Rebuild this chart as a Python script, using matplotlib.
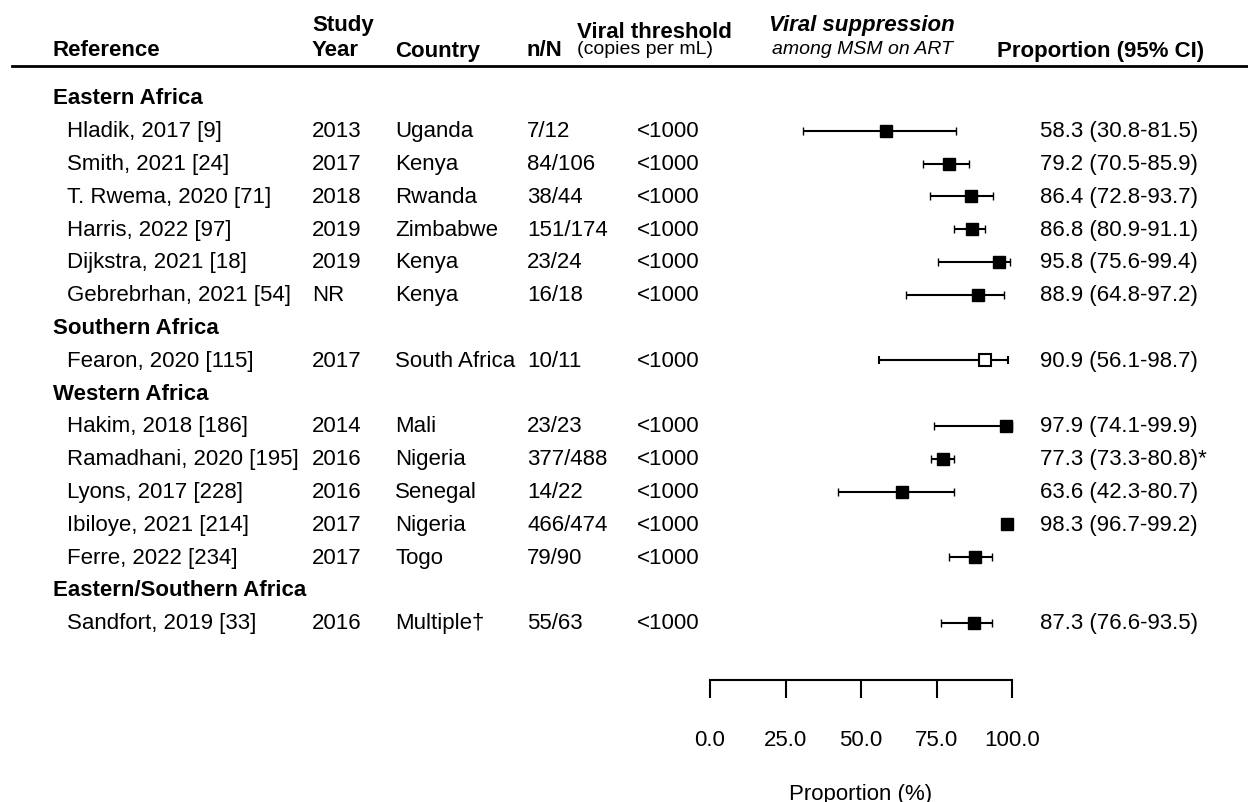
import matplotlib
matplotlib.use("Agg")
import matplotlib.pyplot as plt
from matplotlib.lines import Line2D
from matplotlib.transforms import blended_transform_factory

plt.rcParams['font.family'] = ['Liberation Sans', 'DejaVu Sans']

# data
groups = ['Eastern Africa', 'Southern Africa', 'Western Africa', 'Eastern/Southern Africa']
study_group = [0, 0, 0, 0, 0, 0, 1, 2, 2, 2, 2, 2, 3]
refs = ['Hladik, 2017 [9]', 'Smith, 2021 [24]', 'T. Rwema, 2020 [71]', 'Harris, 2022 [97]',
        'Dijkstra, 2021 [18]', 'Gebrebrhan, 2021 [54]', 'Fearon, 2020 [115]',
        'Hakim, 2018 [186]', 'Ramadhani, 2020 [195]', 'Lyons, 2017 [228]',
        'Ibiloye, 2021 [214]', 'Ferre, 2022 [234]', 'Sandfort, 2019 [33]']
years = ['2013', '2017', '2018', '2019', '2019', 'NR', '2017', '2014', '2016', '2016', '2017', '2017', '2016']
countries = ['Uganda', 'Kenya', 'Rwanda', 'Zimbabwe', 'Kenya', 'Kenya', 'South Africa',
             'Mali', 'Nigeria', 'Senegal', 'Nigeria', 'Togo', 'Multiple\u2020']
n_N = ['7/12', '84/106', '38/44', '151/174', '23/24', '16/18', '10/11',
       '23/23', '377/488', '14/22', '466/474', '79/90', '55/63']
threshold = ['<1000'] * 13
est = [58.3, 79.2, 86.4, 86.8, 95.8, 88.9, 90.9, 97.9, 77.3, 63.6, 98.3, 87.8, 87.3]
lo = [30.8, 70.5, 72.8, 80.9, 75.6, 64.8, 56.1, 74.1, 73.3, 42.3, 96.7, 79.3, 76.6]
hi = [81.5, 85.9, 93.7, 91.1, 99.4, 97.2, 98.7, 99.9, 80.8, 80.7, 99.2, 93.3, 93.5]
ci_text = ['58.3 (30.8-81.5)', '79.2 (70.5-85.9)', '86.4 (72.8-93.7)', '86.8 (80.9-91.1)',
           '95.8 (75.6-99.4)', '88.9 (64.8-97.2)', '90.9 (56.1-98.7)', '97.9 (74.1-99.9)',
           '77.3 (73.3-80.8)*', '63.6 (42.3-80.7)', '98.3 (96.7-99.2)', '',
           '87.3 (76.6-93.5)']
hollow = [False] * 6 + [True] + [False] * 6
ticks = [0, 25, 50, 75, 100]

W, H = 1248, 803
row0, step = 99, 32.8   # pixel y of first row and row spacing
fs = 16
fs_small = 14


def r(py):
    # pixel y -> row units
    return (py - row0) / step


fig = plt.figure(figsize=(W / 100, H / 100), dpi=100)
ax = fig.add_axes([710 / W, (H - 681) / H, 302 / W, 681 / H])
ax.set_xlim(0, 100)
ax.set_ylim(r(681), r(0))
tr = blended_transform_factory(fig.transFigure, ax.transData)

# row positions
group_rows = []
study_rows = []
row = 0
for g in range(len(groups)):
    group_rows.append(row)
    row += 1
    for i in range(len(refs)):
        if study_group[i] == g:
            study_rows.append(row)
            row += 1

for g, y in zip(groups, group_rows):
    ax.text(53 / W, y, g, transform=tr, fontsize=fs, fontweight='bold', va='center', ha='left')

for i, y in enumerate(study_rows):
    ax.text(67 / W, y, refs[i], transform=tr, fontsize=fs, va='center')
    ax.text(312 / W, y, years[i], transform=tr, fontsize=fs, va='center')
    ax.text(395 / W, y, countries[i], transform=tr, fontsize=fs, va='center')
    ax.text(527 / W, y, n_N[i], transform=tr, fontsize=fs, va='center')
    ax.text(637 / W, y, threshold[i], transform=tr, fontsize=fs, va='center')
    ax.text(1040 / W, y, ci_text[i], transform=tr, fontsize=fs, va='center')
    ax.errorbar(est[i], y, xerr=[[est[i] - lo[i]], [hi[i] - est[i]]], fmt='s',
                color='black', mfc='white' if hollow[i] else 'black', mec='black',
                ms=9, mew=1.5 if hollow[i] else 1, elinewidth=1.5, capsize=3,
                capthick=1.6, clip_on=False, zorder=3)

# header
hd = dict(transform=tr, fontsize=fs, fontweight='bold', va='center')
ax.text(53 / W, r(51), 'Reference', **hd)
ax.text(312 / W, r(26), 'Study', **hd)
ax.text(312 / W, r(51), 'Year', **hd)
ax.text(395 / W, r(51), 'Country', **hd)
ax.text(526 / W, r(51), 'n/N', **hd)
ax.text(577 / W, r(32), 'Viral threshold', **hd)
ax.text(577 / W, r(49), '(copies per mL)', transform=tr, fontsize=fs_small, va='center')
ax.text(769 / W, r(25), 'Viral suppression', transform=tr, fontsize=fs, fontweight='bold',
        fontstyle='italic', va='center')
ax.text(772 / W, r(49), 'among MSM on ART', transform=tr, fontsize=fs_small,
        fontstyle='italic', va='center')
ax.text(997 / W, r(51), 'Proportion (95% CI)', **hd)
fig.add_artist(Line2D([12 / W, 1], [1 - 67 / H, 1 - 67 / H], color='black', lw=2,
                      transform=fig.transFigure))

# axis
for s in ['top', 'left', 'right']:
    ax.spines[s].set_visible(False)
ax.spines['bottom'].set_linewidth(1.5)
ax.set_yticks([])
ax.set_xticks(ticks)
ax.set_xticklabels(['%.1f' % t for t in ticks], fontsize=fs)
ax.tick_params(axis='x', direction='out', length=13, width=1.5, pad=22)
ax.set_xlabel('Proportion (%)', fontsize=fs, labelpad=24)

fig.savefig('out.png', dpi=100)
